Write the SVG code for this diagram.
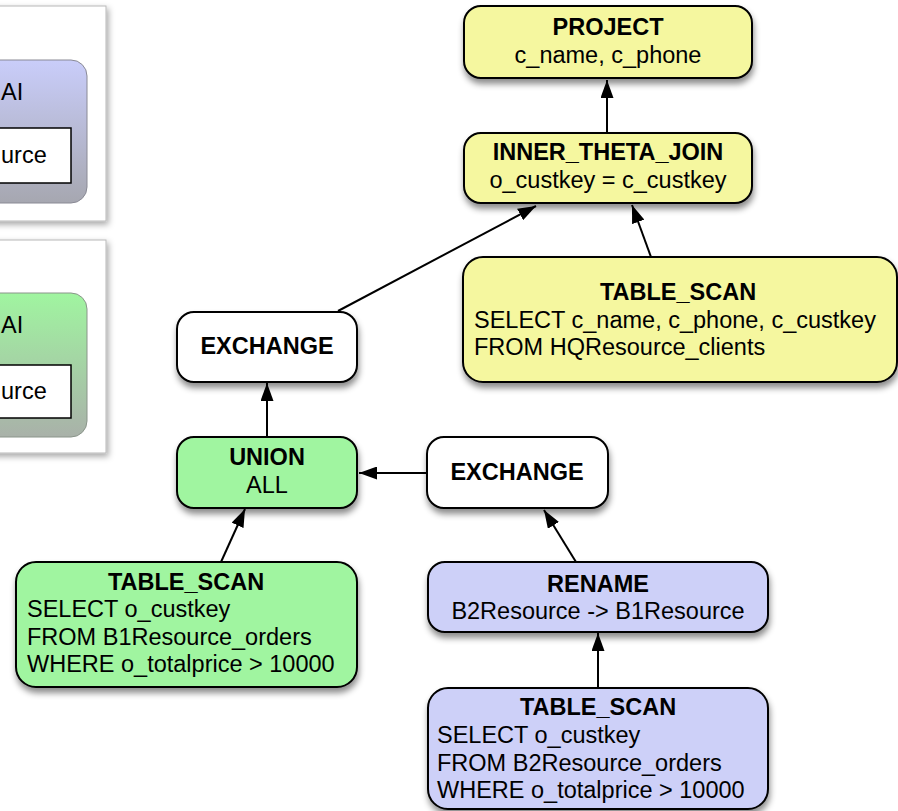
<svg xmlns="http://www.w3.org/2000/svg" width="898" height="811" viewBox="0 0 898 811">
<style>
  text { font-family: "Liberation Sans", Arial, sans-serif; font-size: 23.5px; fill: #000; }
  .b { font-weight: bold; }
  .c { text-anchor: middle; }
  .node { stroke: #000; stroke-width: 2; filter: url(#sh); }
  .yellow { fill: #f5f79f; }
  .green { fill: #a0f5a0; }
  .lav { fill: #cdd0f8; }
  .white { fill: #ffffff; }
  .edge { stroke: #000; stroke-width: 2; fill: none; marker-end: url(#ah); }
</style>
<defs>
  <filter id="sh" x="-10%" y="-20%" width="130%" height="150%">
    <feDropShadow dx="1" dy="5" stdDeviation="3" flood-color="#000" flood-opacity="0.45"/>
  </filter>
  <filter id="psh" x="-10%" y="-10%" width="130%" height="130%">
    <feDropShadow dx="2" dy="3" stdDeviation="3" flood-color="#000" flood-opacity="0.35"/>
  </filter>
  <linearGradient id="gLav" x1="0" y1="0" x2="0" y2="1">
    <stop offset="0" stop-color="#c9cdfa"/>
    <stop offset="1" stop-color="#a6a7b0"/>
  </linearGradient>
  <linearGradient id="gGreen" x1="0" y1="0" x2="0" y2="1">
    <stop offset="0" stop-color="#a0f5a0"/>
    <stop offset="1" stop-color="#a9b1a9"/>
  </linearGradient>
  <marker id="ah" viewBox="0 0 18 13" refX="18" refY="6.5" markerWidth="18" markerHeight="13" markerUnits="userSpaceOnUse" orient="auto">
    <path d="M0,0 L18,6.5 L0,13 z" fill="#000"/>
  </marker>
</defs>
<rect width="898" height="811" fill="#ffffff"/>

<!-- partial panels on the left edge -->
<g id="panel1">
  <rect x="-10" y="6" width="116" height="215" fill="#ffffff" stroke="#b8b8b8" stroke-width="1" filter="url(#psh)"/>
  <rect x="-30" y="60" width="117" height="143" rx="16" fill="url(#gLav)" stroke="#8a8a95" stroke-width="1"/>
  <text x="1" y="100">AI</text>
  <rect x="-10" y="128" width="81" height="55" fill="#ffffff" stroke="#000" stroke-width="1.5"/>
  <text x="1" y="163">urce</text>
</g>
<g id="panel2">
  <rect x="-10" y="240" width="116" height="213" fill="#ffffff" stroke="#b8b8b8" stroke-width="1" filter="url(#psh)"/>
  <rect x="-30" y="293" width="117" height="144" rx="16" fill="url(#gGreen)" stroke="#8a958a" stroke-width="1"/>
  <text x="1" y="333">AI</text>
  <rect x="-10" y="365" width="81" height="53" fill="#ffffff" stroke="#000" stroke-width="1.5"/>
  <text x="1" y="399">urce</text>
</g>

<!-- connectors -->
<g id="connectors">
  <line class="edge" x1="607" y1="133" x2="607" y2="80"/>
  <line class="edge" x1="338" y1="311" x2="536" y2="206"/>
  <line class="edge" x1="651" y1="257" x2="632" y2="205"/>
  <line class="edge" x1="267" y1="437" x2="267" y2="383"/>
  <line class="edge" x1="427" y1="473" x2="359" y2="473"/>
  <line class="edge" x1="576" y1="562" x2="544" y2="510"/>
  <line class="edge" x1="598" y1="688" x2="598" y2="633"/>
  <line class="edge" x1="221" y1="562" x2="245" y2="509"/>
</g>

<g id="project">
  <rect class="node yellow" x="464" y="6" width="288" height="72" rx="17"/>
  <text class="b c" x="608" y="35">PROJECT</text>
  <text class="c" x="608" y="63">c_name, c_phone</text>
</g>
<g id="join">
  <rect class="node yellow" x="464" y="133" width="288" height="70" rx="17"/>
  <text class="b c" x="608" y="160">INNER_THETA_JOIN</text>
  <text class="c" x="608" y="188">o_custkey = c_custkey</text>
</g>
<g id="scan_hq">
  <rect class="node yellow" x="463" y="257" width="434" height="125" rx="20"/>
  <text class="b c" x="678" y="300">TABLE_SCAN</text>
  <text x="474" y="328">SELECT c_name, c_phone, c_custkey</text>
  <text x="474" y="355">FROM HQResource_clients</text>
</g>
<g id="exchange_left">
  <rect class="node white" x="177" y="312" width="180" height="70" rx="17"/>
  <text class="b c" x="267" y="354">EXCHANGE</text>
</g>
<g id="union">
  <rect class="node green" x="177" y="437" width="180" height="71" rx="17"/>
  <text class="b c" x="267" y="465">UNION</text>
  <text class="c" x="267" y="493">ALL</text>
</g>
<g id="exchange_right">
  <rect class="node white" x="427" y="437" width="181" height="71" rx="17"/>
  <text class="b c" x="517" y="480">EXCHANGE</text>
</g>
<g id="scan_b1">
  <rect class="node green" x="16" y="562" width="341" height="125" rx="20"/>
  <text class="b c" x="186" y="590">TABLE_SCAN</text>
  <text x="27" y="617">SELECT o_custkey</text>
  <text x="27" y="645">FROM B1Resource_orders</text>
  <text x="27" y="672">WHERE o_totalprice &gt; 10000</text>
</g>
<g id="rename">
  <rect class="node lav" x="428" y="562" width="340" height="70" rx="17"/>
  <text class="b c" x="598" y="592">RENAME</text>
  <text class="c" x="598" y="619">B2Resource -&gt; B1Resource</text>
</g>
<g id="scan_b2">
  <rect class="node lav" x="428" y="688" width="340" height="121" rx="20"/>
  <text class="b c" x="598" y="715">TABLE_SCAN</text>
  <text x="437" y="743">SELECT o_custkey</text>
  <text x="437" y="771">FROM B2Resource_orders</text>
  <text x="437" y="798">WHERE o_totalprice &gt; 10000</text>
</g>
</svg>
